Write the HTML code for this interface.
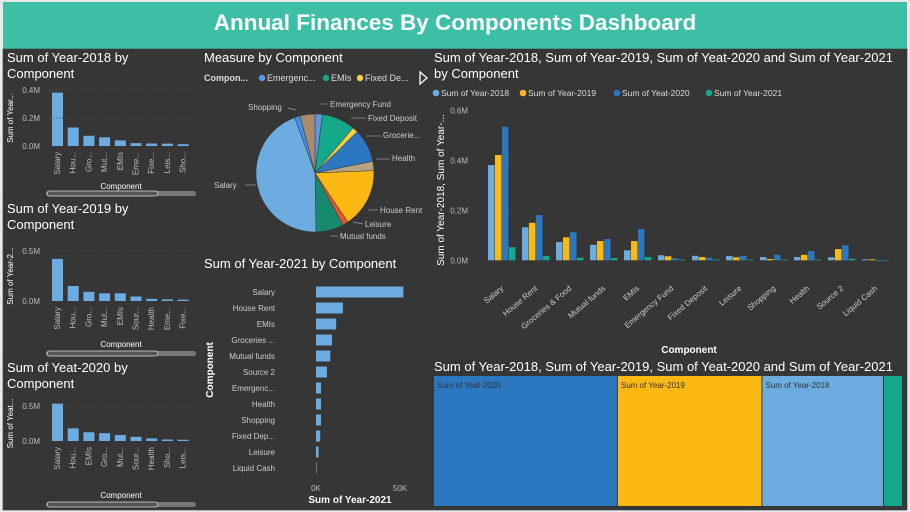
<!DOCTYPE html>
<html><head><meta charset="utf-8">
<style>
html,body{margin:0;padding:0;background:#e8e8e8;width:910px;height:512px;overflow:hidden;font-family:"Liberation Sans",sans-serif;}
#hdr{position:absolute;left:3px;top:2px;width:904px;height:47px;background:#3dbfa6;color:#fff;font:bold 22.5px "Liberation Sans",sans-serif;text-align:center;line-height:42px;}
svg{position:absolute;left:0;top:0;}
</style></head><body>
<div id="hdr">Annual Finances By Components Dashboard</div>
<svg id="s" width="910" height="512" xmlns="http://www.w3.org/2000/svg" font-family="Liberation Sans, sans-serif"></svg>
<script>
const categories=["Salary","House Rent","Groceries & Food","Mutual funds","EMIs","Emergency Fund","Fixed Deposit","Leisure","Shopping","Health","Source 2","Liquid Cash"];
const y2018=[381,132,73,62,40,20,18,17,13,13,12,4];
const y2019=[421,150,92,77,77,16,13,12,5,22,45,4];
const y2020=[534,181,112,85,125,8,10,18,22,37,60,-4];
const y2021=[52,17,10,9,13,3,3,3,3,3,6,1];
const shortNames=["Salary","Hou...","Gro...","Mut...","EMIs","Eme...","Fixe...","Leis...","Sho...","Health","Sour...","Liqu..."];
const hbarCats=["Salary","House Rent","EMIs","Groceries ...","Mutual funds","Source 2","Emergenc...","Health","Shopping","Fixed Dep...","Leisure","Liquid Cash"];
const hbarVals=[52,16,12,9.5,8.5,6.5,3,3,3,2.5,1.5,0.3];
const pieCats=["Emergency Fund","EMIs","Fixed Deposit","Groceries & Food","Health","House Rent","Leisure","Mutual funds","Salary","Shopping","Source 2"];
const pieVals=[2,9,1.5,9,2.5,16,1.5,7.5,44,1.5,4];
const pieColors=["#5e97e6","#14a98a","#f5d142","#2b78c0","#b5a47e","#fdb913","#e8542a","#168a6e","#6cace0","#3d8ff0","#a88b6e"];
const seriesNames=["Sum of Year-2018","Sum of Year-2019","Sum of Yeat-2020","Sum of Year-2021"];
const seriesColors=["#6cace0","#fdb913","#2b78c0","#14a98a"];

const S=document.getElementById('s');
const NS="http://www.w3.org/2000/svg";
function el(t,a,txt){const e=document.createElementNS(NS,t);for(const k in a)e.setAttribute(k,a[k]);if(txt!==undefined)e.textContent=txt;S.appendChild(e);return e;}

const panels=[[3,49,197,146,"panel-2018"],[3,195,197,163,"panel-2019"],[3,358,197,152,"panel-2020"],[200,49,230,201,"panel-pie"],[200,250,230,260,"panel-hbar-2021"],[430,49,477,303,"panel-clustered"],[430,352,477,158,"panel-treemap"]];
panels.forEach(p=>{const r=el('rect',{x:p[0],y:p[1],width:p[2],height:p[3],fill:'#363636',stroke:'#2e3e4a','stroke-width':0.6});
});

function txt(x,y,s,o){const a=Object.assign({x:x,y:y,fill:'#fff','font-size':13},o||{});const t=el('text',a,s);return t;}

function small(vals,title,top,zeroY,tickY,tickVal,tickLbl,ytitle,lblEnd,compY,sbY,name){
  const t1=txt(7,top,title[0]);
  const t2=txt(7,top+16,title[1]);
  const idx=vals.map((v,i)=>i).sort((a,b)=>vals[b]-vals[a]).slice(0,9);
  const sc=(zeroY-tickY)/tickVal;
  el('line',{x1:50,x2:196,y1:tickY,y2:tickY,stroke:'#555','stroke-dasharray':'1,2'});
  [[tickY,tickLbl],[zeroY,'0.0M']].forEach(d=>{const t=txt(40,d[0]+3,d[1],{'font-size':8,fill:'#bbb','text-anchor':'end'});});
  const yt=txt(0,0,ytitle,{'font-size':8,'text-anchor':'middle',transform:`translate(13,${(tickY+zeroY)/2}) rotate(-90)`});
  
  idx.forEach((ci,k)=>{const v=vals[ci];const x=52+k*15.7;const h=v*sc;
    const b=el('rect',{x:x,y:zeroY-h,width:11,height:h,fill:'#6cace0'});
    
    const l=txt(0,0,shortNames[ci],{'font-size':8,fill:'#bbb','text-anchor':'end',transform:`translate(${x+8},${zeroY+6}) rotate(-90)`});
    });
  const c=txt(121,compY,'Component',{'font-size':8,'text-anchor':'middle'});
  const sb=el('rect',{x:46,y:sbY,width:150,height:5,rx:2.5,fill:'#777'});
  const th=el('rect',{x:47,y:sbY,width:111,height:5,rx:2.5,fill:'#555',stroke:'#ddd','stroke-width':0.8});
}
small(y2018,["Sum of Year-2018 by","Component"],62,146,90,400,'0.4M','Sum of Year...',0,189,191,'y2018');
small(y2019,["Sum of Year-2019 by","Component"],213,301,251,500,'0.5M','Sum of Year-2...',0,347,351,'y2019');
small(y2020,["Sum of Yeat-2020 by","Component"],372,441,406,500,'0.5M','Sum of Yeat...',0,498,502,'y2020');
txt(40,121,'0.2M',{'font-size':8,fill:'#bbb','text-anchor':'end'});
el('line',{x1:50,x2:196,y1:118,y2:118,stroke:'#555','stroke-dasharray':'1,2'});

let t=txt(204,62,'Measure by Component');
t=txt(204,81,'Compon...',{'font-size':9,'font-weight':'bold',fill:'#ddd'});
[["Emergenc...",262,pieColors[0]],["EMIs",326,pieColors[1]],["Fixed De...",360,pieColors[2]]].forEach(d=>{
  const c=el('circle',{cx:d[1],cy:78,r:3.2,fill:d[2]});
  const tt=txt(d[1]+5,81,d[0],{'font-size':9,fill:'#ddd'});});
t=el('path',{d:'M420,72 L427,78 L420,84 Z',fill:'none',stroke:'#fff','stroke-width':1.3});
const cx=315,cy=173,R=59;const tot=pieVals.reduce((a,b)=>a+b,0);let ang=-Math.PI/2;
pieVals.forEach((v,i)=>{const a2=ang+v/tot*2*Math.PI;const large=(a2-ang)>Math.PI?1:0;
  const p=el('path',{d:`M${cx},${cy} L${cx+R*Math.cos(ang)},${cy+R*Math.sin(ang)} A${R},${R} 0 ${large} 1 ${cx+R*Math.cos(a2)},${cy+R*Math.sin(a2)} Z`,fill:pieColors[i],stroke:'#363636','stroke-width':0.5});
  ang=a2;});
[["Shopping",248,110,'start'],["Emergency Fund",330,107,'start'],["Fixed Deposit",368,121,'start'],["Grocerie...",383,138,'start'],["Health",392,161,'start'],["House Rent",380,213,'start'],["Leisure",365,227,'start'],["Mutual funds",340,239,'start'],["Salary",214,188,'start']].forEach(d=>{
  const tt=txt(d[1],d[2],d[0],{'font-size':8,fill:'#ccc','text-anchor':d[3]});});
[[288,108,296,110],[321,104,328,104],[351,118,366,118],[366,136,381,136],[376,159,390,159],[368,210,378,210],[353,222,363,224],[330,236,338,236],[245,185,256,185]].forEach(l=>el('line',{x1:l[0],y1:l[1],x2:l[2],y2:l[3],stroke:'#999','stroke-width':0.7}));

t=txt(204,268,'Sum of Year-2021 by Component');
const hx0=316,hsc=84/50;
hbarVals.forEach((v,i)=>{const y=292+i*16;
  const b=el('rect',{x:hx0,y:y-5.5,width:Math.max(0.6,v*hsc),height:11,fill:'#6cace0'});
  const l=txt(275,y+3,hbarCats[i],{'font-size':8,fill:'#ccc','text-anchor':'end'});});
[[0,'0K'],[50,'50K']].forEach(d=>{const l=txt(hx0+d[0]*hsc,491,d[1],{'font-size':8,fill:'#bbb','text-anchor':'middle'});});
t=txt(350,503,'Sum of Year-2021',{'font-size':10,'font-weight':'bold','text-anchor':'middle'});
t=txt(0,0,'Component',{'font-size':10,'font-weight':'bold','text-anchor':'middle',transform:'translate(213,370) rotate(-90)'});

t=txt(434,62,'Sum of Year-2018, Sum of Year-2019, Sum of Yeat-2020 and Sum of Year-2021');
t=txt(434,78,'by Component');
[436,523,617,709].forEach((x,i)=>{const c=el('circle',{cx:x,cy:93,r:3.3,fill:seriesColors[i]});
  const tt=txt(x+5,96,seriesNames[i],{'font-size':8.5,fill:'#ddd'});});
const z0=260.3,csc=0.25;
[0,200,400,600].forEach(v=>{const y=z0-v*csc;
  if(v>0)el('line',{x1:475,x2:898,y1:y,y2:y,stroke:'#4d4d4d','stroke-dasharray':'1,2'});
  const l=txt(468,y+3,(v/1000).toFixed(1)+'M',{'font-size':8,fill:'#bbb','text-anchor':'end'});});
const series=[y2018,y2019,y2020,y2021];
categories.forEach((c,g)=>{const gx=488+g*34;
  series.forEach((sv,k)=>{const v=sv[g];const h=Math.abs(v)*csc;
    const b=el('rect',{x:gx+k*7,y:v>=0?z0-h:z0,width:6.5,height:Math.max(h,0.5),fill:seriesColors[k]});
    });
  const l=txt(0,0,c,{'font-size':8,fill:'#ccc','text-anchor':'end',transform:`translate(${gx+16},${z0+29}) rotate(-40)`});
  });
t=txt(0,0,'Sum of Year-2018, Sum of Year-...',{'font-size':10,'text-anchor':'middle',transform:'translate(444,190) rotate(-90)'});
t=txt(689,353,'Component',{'font-size':10,'font-weight':'bold','text-anchor':'middle'});

t=txt(434,371,'Sum of Year-2018, Sum of Year-2019, Sum of Yeat-2020 and Sum of Year-2021');
const sums=series.map(s=>s.reduce((a,b)=>a+b,0));
const order=[2,1,0,3];const totS=sums.reduce((a,b)=>a+b,0);const tw=469;let tx=434;
order.forEach(k=>{const w=sums[k]/totS*tw;
  const r=el('rect',{x:tx,y:376,width:w-1,height:130,fill:seriesColors[k]});
  if(w>40){const l=txt(tx+3,388,seriesNames[k],{'font-size':8,fill:'#333'});}
  tx+=w;});
</script>
</body></html>
